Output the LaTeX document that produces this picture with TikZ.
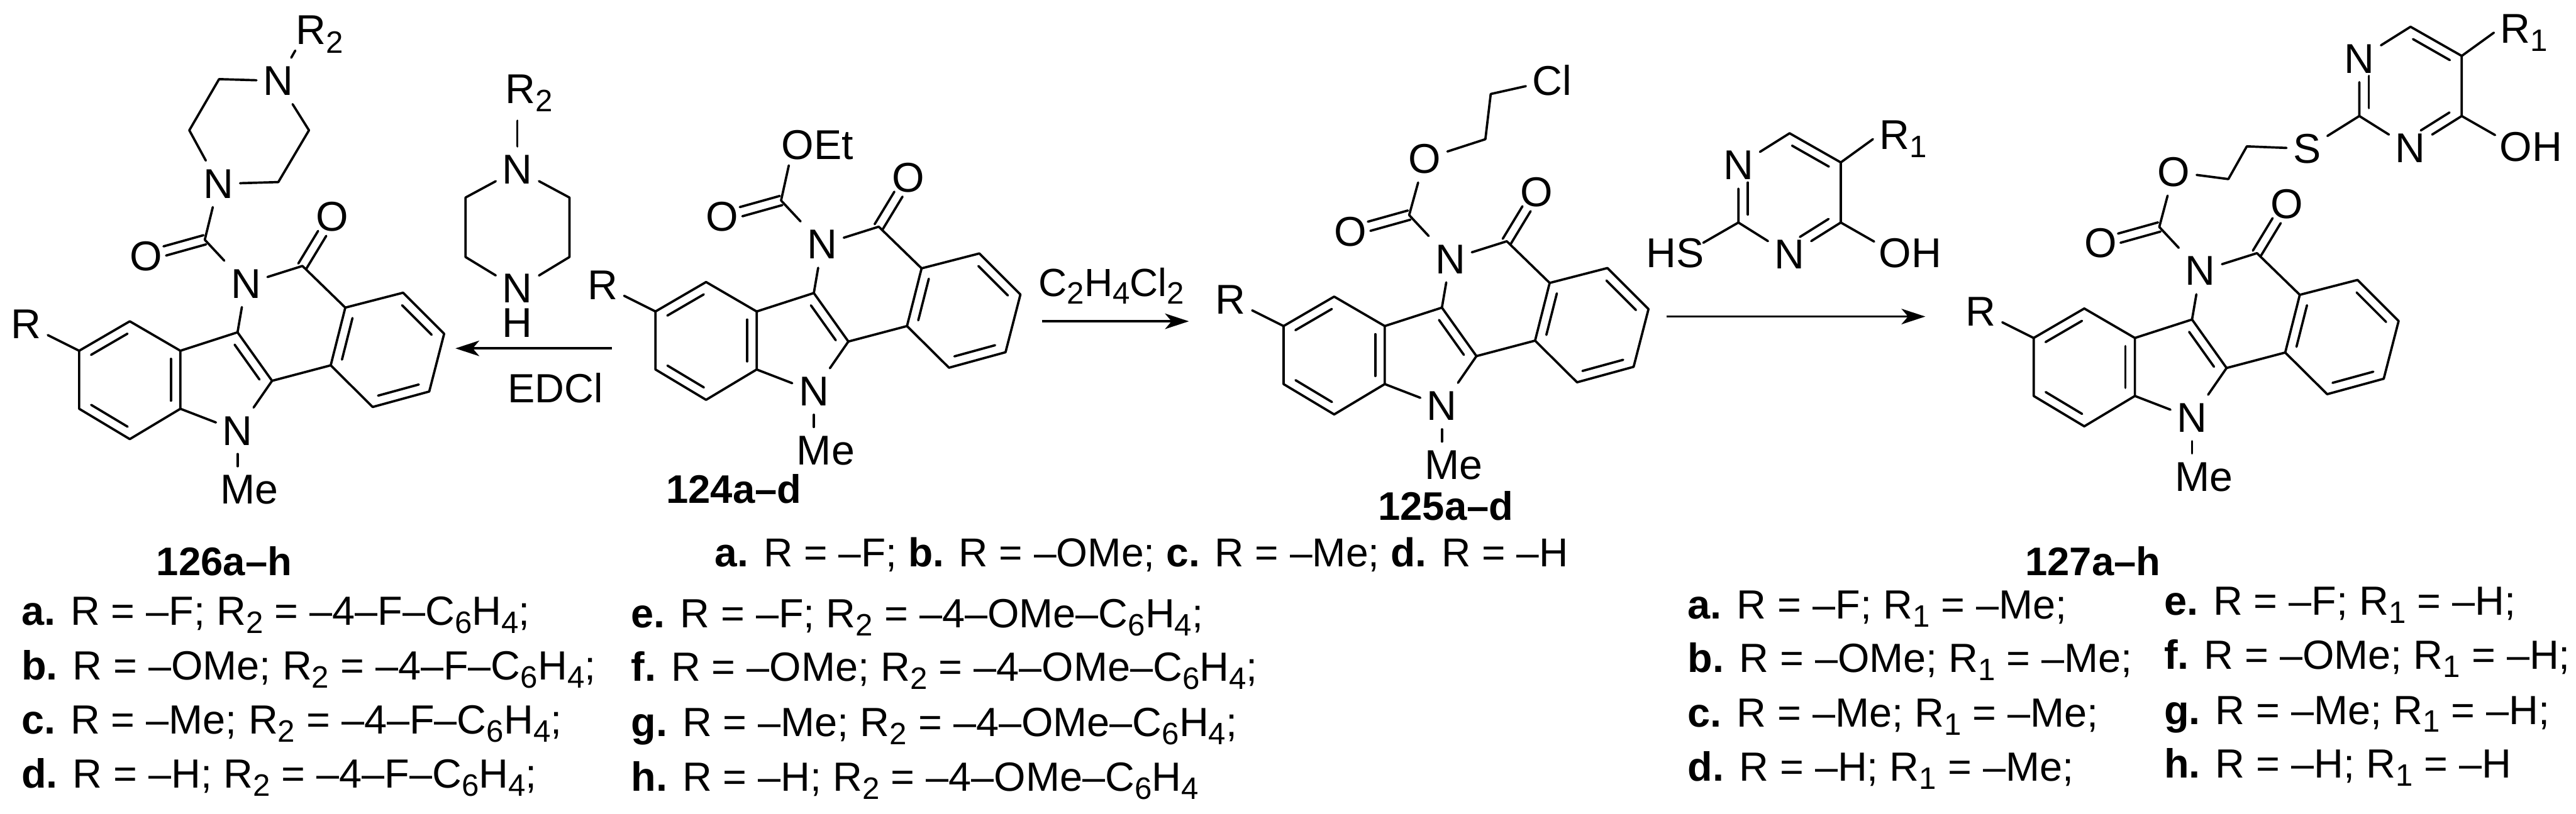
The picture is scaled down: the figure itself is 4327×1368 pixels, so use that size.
\documentclass[tikz,border=0pt]{standalone}
\usepackage{fontspec}
\setmainfont{Liberation Sans}
\usetikzlibrary{arrows.meta,calc}
\newcommand\subs[1]{\raisebox{-0.2em}{\fontsize{10.4}{10}\selectfont #1}}

\begin{document}
\begin{tikzpicture}[
        %We work in the pixels of the scheme, y going down
        x=0.2pt, y=-0.2pt,
        bond/.style={line width=0.78pt, line join=round, line cap=round},
        react/.style={line width=0.8pt, ->, >={Stealth[length=8pt,width=5.2pt,inset=2.2pt]}},
        atom/.style={inner xsep=2pt, inner ysep=2.8pt, font=\fontsize{14}{16}\selectfont},
        lbl/.style={anchor=base west, inner sep=0pt, font=\fontsize{13.7}{15}\selectfont},
        cpd/.style={anchor=base west, inner sep=0pt, font=\fontsize{13.4}{15}\selectfont\bfseries}
    ]
    \useasboundingbox (0,0) rectangle (4327,1368);

    % Double bonds
    \newcommand\dblf[4]{\draw[bond] ($(#1)!#3!(#2)!3.2pt!-90:(#2)$) -- ($(#1)!#4!(#2)!3.2pt!-90:(#2)$);}
    \newcommand\dbl[2]{\dblf{#1}{#2}{.14}{.86}}
    \newcommand\cobond[2]{
        \draw[bond,shorten >=6.5pt] ($(#1)!1.6pt!90:(#2)$) -- ($(#2)!1.6pt!-90:(#1)$);
        \draw[bond,shorten >=6.5pt] ($(#1)!1.6pt!-90:(#2)$) -- ($(#2)!1.6pt!90:(#1)$);
    }

    % The tetracycle, drawn for 124 and shifted for the others
    \newcommand\core[3]{
    \begin{scope}[shift={(#2,#3)}, name prefix=#1-]
    \coordinate (c1) at (1101,523.5);
    \coordinate (c2) at (1186,474);
    \coordinate (c3) at (1271,523.5);
    \coordinate (c4) at (1271,621);
    \coordinate (c5) at (1186,672);
    \coordinate (c6) at (1101,621);
    \coordinate (c7) at (1367,492.5);
    \coordinate (c8) at (1425,574);
    \coordinate (c9) at (1476,381);
    \coordinate (d1) at (1548,451);
    \coordinate (d2) at (1645,426);
    \coordinate (d3) at (1714,495);
    \coordinate (d4) at (1689,592);
    \coordinate (d5) at (1594,618);
    \coordinate (d6) at (1523.5,548);
    \coordinate (cc) at (1312,337);
    \node[atom] (nb) at (1367,658) {N};
    \node[atom] (me) at (1387,757) {Me};
    \node[atom] (nam) at (1381,411) {N};
    \node[atom] (oa) at (1526,298.5) {O};
    \node[atom] (ob) at (1213.5,364.5) {O};
    \node[atom] (r) at (1012,479) {R};
    \draw[bond] (c1) -- (c2) -- (c3) -- (c4) -- (c5) -- (c6) -- (c1);
    \draw[bond] (d1) -- (d2) -- (d3) -- (d4) -- (d5) -- (d6) -- (d1);
    \draw[bond] (c3) -- (c7) -- (c8) -- (d6);
    \draw[bond] (c8) -- (nb) -- (c4);
    \draw[bond] (c7) -- (nam) -- (c9) -- (d1);
    \draw[bond] (nam) -- (cc);
    \draw[bond] (r) -- (c1);
    \draw[bond] (nb) -- (nb |- me.north);
    \dbl{c1}{c2} \dbl{c3}{c4} \dbl{c5}{c6} \dbl{c7}{c8}
    \dbl{d2}{d3} \dbl{d4}{d5} \dbl{d6}{d1}
    \cobond{c9}{oa}
    \cobond{cc}{ob}
    \end{scope}
    }

    % The pyrimidine, drawn for the reagent and shifted for 127
    \newcommand\pyrim[3]{
    \begin{scope}[shift={(#2,#3)}, name prefix=#1-]
    \coordinate (p2) at (2920,374);
    \coordinate (p6) at (3006,224);
    \coordinate (p5) at (3092,273);
    \coordinate (p4) at (3092,374);
    \coordinate (ohb) at (3148,406);
    \node[atom] (n1) at (2920,278) {N};
    \node[atom] (n3) at (3006,428) {N};
    \node[atom,anchor=base west] (oh) at (3145,450) {OH};
    \node[atom,anchor=base west] (r1) at (3146,251) {R\subs{1}};
    \draw[bond] (p2) -- (n1) -- (p6) -- (p5) -- (p4) -- (n3) -- (p2);
    \draw[bond] (p4) -- (ohb);
    \draw[bond] (p5) -- (r1.west);
    \dbl{p6}{p5}
    \dblf{p2}{n1}{.14}{.7}
    \dblf{p4}{n3}{.14}{.7}
    \end{scope}
    }

    % Compounds
    \core{cpa}{-968}{66}
    \core{cpb}{0}{0}
    \core{cpc}{1055}{24.5}
    \core{cpd}{2315}{44.5}

    % 126 piperazine
    \coordinate (pz1) at (467.5,306);
    \coordinate (pz2) at (519,219);
    \coordinate (pz3) at (368,133);
    \coordinate (pz4) at (318,219);
    \coordinate (rtwob) at (496,85);
    \node[atom] (pzn1) at (367,309) {N};
    \node[atom] (pzn2) at (467,136) {N};
    \node[atom,anchor=base west] (rtwo) at (486,75) {R\subs{2}};
    \draw[bond] (pzn1) -- (pz1) -- (pz2) -- (pzn2) -- (pz3) -- (pz4) -- (pzn1);
    \draw[bond] (pzn1) -- (cpa-cc);
    \draw[bond] (pzn2) -- (rtwob);

    % Free piperazine
    \coordinate (fp1) at (956.5,332);
    \coordinate (fp2) at (956.5,432);
    \coordinate (fp3) at (782,432);
    \coordinate (fp4) at (782,332);
    \node[atom] (fpn1) at (869,285) {N};
    \node[atom] (fpn2) at (869,485) {N};
    \node[atom] (fph) at (869,543) {H};
    \node[atom,anchor=base west] (frtwo) at (838,174) {R\subs{2}};
    \draw[bond] (fpn1) -- (fp1) -- (fp2) -- (fpn2) -- (fp3) -- (fp4) -- (fpn1);
    \draw[bond] (fpn1) -- (fpn1 |- frtwo.south);

    % 124 ester
    \coordinate (oetb) at (1325,278);
    \node[atom,anchor=base west] (oet) at (1302,268) {OEt};
    \draw[bond] (cpb-cc) -- (oetb);

    % 125 chloroethyl
    \coordinate (cla) at (2495,234);
    \coordinate (clb) at (2504,158);
    \node[atom] (clo) at (2393,267) {O};
    \node[atom] (cl) at (2607,135) {Cl};
    \draw[bond] (cpc-cc) -- (clo) -- (cla) -- (clb) -- (cl);

    % Mercaptopyrimidine
    \pyrim{rgt}{0}{0}
    \coordinate (hsb) at (2861,408);
    \node[atom,anchor=base west] (hs) at (2754,450) {HS};
    \draw[bond] (rgt-p2) -- (hsb);

    % 127 linker
    \pyrim{lnk}{1043}{-179}
    \coordinate (lka) at (3743,301);
    \coordinate (lkb) at (3774,246);
    \node[atom] (lko) at (3651.5,289) {O};
    \node[atom] (lks) at (3875,250) {S};
    \draw[bond] (cpd-cc) -- (lko) -- (lka) -- (lkb) -- (lks) -- (lnk-p2);

    % Arrows
    \coordinate (arra) at (1028,585.5);
    \coordinate (arrb) at (765,585.5);
    \coordinate (arrc) at (1750,540);
    \coordinate (arrd) at (1997,540);
    \coordinate (arre) at (2799,532);
    \coordinate (arrf) at (3234,532);
    \draw[react] (arra) -- (arrb);
    \draw[react] (arrc) -- (arrd);
    \draw[react] (arre) -- (arrf);
    \node[lbl] (edcl) at (852,677) {EDCl};
    \node[lbl,font=\fontsize{13.2}{15}\selectfont] (dce) at (1744,498) {C\subs{2}H\subs{4}Cl\subs{2}};

    % Compound numbers
    \node[cpd] (n124) at (1118,846) {124a–d};
    \node[cpd] (n125) at (2314,874) {125a–d};
    \node[cpd] (n126) at (262,967) {126a–h};
    \node[cpd] (n127) at (3401,967) {127a–h};

    % Substituents
    \node[lbl,font=\fontsize{13.55}{15}\selectfont] (toplist) at (1200,952) {\textbf{a.} R = –F; \textbf{b.} R = –OMe; \textbf{c.} R = –Me; \textbf{d.} R = –H};

    \node[lbl] (la) at (35,1051) {\textbf{a.} R = –F; R\subs{2} = –4–F–C\subs{6}H\subs{4};};
    \node[lbl] (lb) at (35,1142) {\textbf{b.} R = –OMe; R\subs{2} = –4–F–C\subs{6}H\subs{4};};
    \node[lbl] (lc) at (35,1233) {\textbf{c.} R = –Me; R\subs{2} = –4–F–C\subs{6}H\subs{4};};
    \node[lbl] (ld) at (35,1324) {\textbf{d.} R = –H; R\subs{2} = –4–F–C\subs{6}H\subs{4};};
    \node[lbl] (le) at (1059,1055) {\textbf{e.} R = –F; R\subs{2} = –4–OMe–C\subs{6}H\subs{4};};
    \node[lbl] (lf) at (1059,1145) {\textbf{f.} R = –OMe; R\subs{2} = –4–OMe–C\subs{6}H\subs{4};};
    \node[lbl] (lg) at (1059,1238) {\textbf{g.} R = –Me; R\subs{2} = –4–OMe–C\subs{6}H\subs{4};};
    \node[lbl] (lh) at (1059,1329) {\textbf{h.} R = –H; R\subs{2} = –4–OMe–C\subs{6}H\subs{4}};

    \node[lbl] (ma) at (2834,1040) {\textbf{a.} R = –F; R\subs{1} = –Me;};
    \node[lbl] (mb) at (2834,1130) {\textbf{b.} R = –OMe; R\subs{1} = –Me;};
    \node[lbl] (mc) at (2834,1222) {\textbf{c.} R = –Me; R\subs{1} = –Me;};
    \node[lbl] (md) at (2834,1313) {\textbf{d.} R = –H; R\subs{1} = –Me;};
    \node[lbl] (me) at (3634,1034) {\textbf{e.} R = –F; R\subs{1} = –H;};
    \node[lbl] (mf) at (3634,1125) {\textbf{f.} R = –OMe; R\subs{1} = –H;};
    \node[lbl] (mg) at (3634,1217) {\textbf{g.} R = –Me; R\subs{1} = –H;};
    \node[lbl] (mh) at (3634,1307) {\textbf{h.} R = –H; R\subs{1} = –H};
\end{tikzpicture}
\end{document}
